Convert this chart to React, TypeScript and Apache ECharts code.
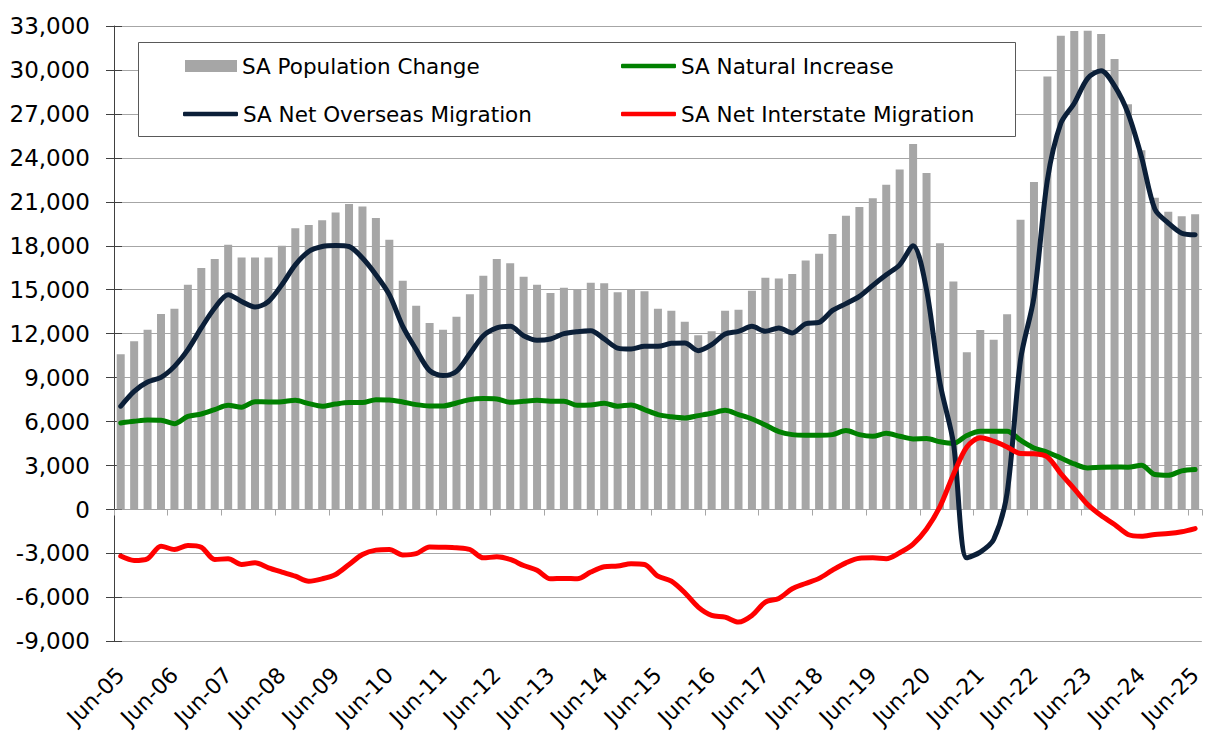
import React, { useEffect, useRef } from "react";
import * as echarts from "echarts";

const quarterNames = ["Jun", "Sep", "Dec", "Mar"];
const firstYear = 5;
const quarterCount = 81;

const categories: string[] = [];
for (let i = 0; i < quarterCount; i++) {
  const q = i % 4;
  const yr = firstYear + Math.floor(i / 4) + (q === 3 ? 1 : 0);
  categories.push(quarterNames[q] + "-" + String(yr).padStart(2, "0"));
}

const popChange = [
  10600, 11480, 12270, 13340, 13700, 15340, 16480, 17090, 18070, 17200,
  17200, 17200, 18000, 19200, 19410, 19750, 20270, 20860, 20680, 19890,
  18410, 15610, 13910, 12730, 12270, 13160, 14700, 15950, 17090, 16800,
  15890, 15340, 14770, 15140, 15000, 15480, 15450, 14820, 15050, 14890,
  13700, 13570, 12820, 11890, 12160, 13570, 13640, 14930, 15820, 15770,
  16070, 17000, 17450, 18800, 20050, 20640, 21250, 22160, 23210, 24950,
  22970, 18170, 15570, 10730, 12250, 11590, 13320, 19770, 22360, 29550,
  32340, 32660, 32680, 32450, 30750, 27660, 24520, 21270, 20320, 20020,
  20160,
];

const naturalIncrease = [
  5910, 6020, 6110, 6090, 5860, 6360, 6520, 6820, 7110, 6980,
  7360, 7340, 7360, 7450, 7230, 7050, 7200, 7300, 7300, 7500,
  7480, 7340, 7160, 7070, 7070, 7270, 7500, 7570, 7550, 7320,
  7390, 7450, 7390, 7390, 7110, 7140, 7250, 7050, 7140, 6820,
  6480, 6330, 6250, 6410, 6570, 6770, 6480, 6180, 5770, 5320,
  5110, 5070, 5070, 5110, 5390, 5110, 5000, 5200, 5000, 4820,
  4840, 4620, 4510, 5050, 5340, 5340, 5340, 4730, 4200, 3910,
  3520, 3110, 2840, 2890, 2910, 2890, 3020, 2390, 2340, 2640,
  2730,
];

const netOverseas = [
  7050, 8070, 8700, 9020, 9770, 10910, 12390, 13750, 14660, 14200,
  13820, 14200, 15340, 16700, 17610, 17950, 18020, 17950, 17160, 16020,
  14660, 12500, 10910, 9480, 9140, 9430, 10640, 11860, 12390, 12500,
  11860, 11550, 11640, 12000, 12140, 12200, 11640, 11020, 10950, 11140,
  11140, 11340, 11360, 10840, 11250, 11980, 12160, 12500, 12160, 12390,
  12050, 12680, 12770, 13590, 14050, 14550, 15300, 16020, 16700, 18000,
  15000, 8640, 4550, -3300, -2910, -2050, 1140, 10230, 14500, 22500,
  26360, 27730, 29430, 29950, 28910, 27050, 24090, 20500, 19550, 18860,
  18750,
];

const netInterstate = [
  -3180, -3480, -3360, -2500, -2730, -2450, -2570, -3410, -3360, -3750,
  -3640, -3980, -4270, -4550, -4890, -4730, -4430, -3750, -3070, -2770,
  -2730, -3100, -3010, -2550, -2570, -2610, -2730, -3300, -3230, -3410,
  -3820, -4140, -4730, -4700, -4730, -4270, -3910, -3860, -3700, -3750,
  -4550, -4890, -5680, -6660, -7230, -7340, -7680, -7230, -6320, -6070,
  -5410, -5050, -4700, -4140, -3640, -3320, -3300, -3360, -2950, -2360,
  -1330, 200, 2390, 4270, 4890, 4660, 4270, 3820, 3800, 3590,
  2450, 1410, 340, -410, -1020, -1700, -1820, -1700, -1640, -1520,
  -1300,
];

const seriesNames = [
  "SA Population Change",
  "SA Natural Increase",
  "SA Net Overseas Migration",
  "SA Net Interstate Migration",
];

const FONT = "DejaVu Sans";

export default function App() {
  const ref = useRef<HTMLDivElement>(null);

  useEffect(() => {
    if (!ref.current) return;
    const chart = echarts.init(ref.current, undefined, { renderer: "svg" });

    const legendText = {
      color: "#000",
      fontFamily: FONT,
      fontSize: 21.5,
      lineHeight: 24,
    };
    const legendBase = {
      orient: "horizontal",
      padding: 0,
      selectedMode: false,
      textStyle: legendText,
      z: 5,
    };
    const lineLegend = { ...legendBase, icon: "roundRect", itemWidth: 55, itemHeight: 4.5 };

    const lineSeries = (name: string, data: number[], color: string) => ({
      name,
      type: "line",
      data,
      symbol: "none",
      smooth: 0.3,
      xAxisIndex: 0,
      yAxisIndex: 0,
      itemStyle: { color },
      lineStyle: { color, width: 5, cap: "round", join: "round" },
      z: 3,
    });

    chart.setOption({
      animation: false,
      backgroundColor: "#ffffff",
      grid: { left: 114, top: 26, width: 1094, height: 616, containLabel: false },
      xAxis: [
        {
          type: "category",
          data: categories,
          position: "bottom",
          axisLine: { show: true, onZero: true, lineStyle: { color: "#a6a6a6", width: 1 } },
          axisTick: { show: true, interval: 3, length: 6, lineStyle: { color: "#a6a6a6", width: 1 } },
          axisLabel: { show: false },
          splitLine: { show: false },
        },
        {
          type: "category",
          data: categories,
          position: "bottom",
          axisLine: { show: false, onZero: false },
          axisTick: { show: false },
          axisLabel: {
            show: true,
            interval: 3,
            rotate: 45,
            margin: 30,
            color: "#000",
            fontFamily: FONT,
            fontSize: 22,
          },
          splitLine: { show: false },
        },
      ],
      yAxis: [
        {
          type: "value",
          min: -9000,
          max: 33000,
          interval: 3000,
          position: "left",
          axisLine: { show: true, lineStyle: { color: "#404040", width: 1 } },
          axisTick: { show: true, inside: false, length: 8, lineStyle: { color: "#404040", width: 1 } },
          axisLabel: {
            margin: 24,
            color: "#000",
            fontFamily: FONT,
            fontSize: 23,
            formatter: (v: number) => v.toLocaleString("en-US"),
          },
          splitLine: { show: true, lineStyle: { color: "#a6a6a6", width: 1 } },
        },
        {
          type: "value",
          min: -9000,
          max: 33000,
          interval: 3000,
          position: "left",
          axisLine: { show: false },
          axisTick: { show: true, inside: true, length: 8, lineStyle: { color: "#404040", width: 1 } },
          axisLabel: { show: false },
          splitLine: { show: false },
        },
      ],
      legend: [
        { ...legendBase, data: [seriesNames[0]], left: 185, top: 54, itemWidth: 52, itemHeight: 12, icon: "rect" },
        { ...lineLegend, data: [seriesNames[1]], left: 621, top: 54 },
        { ...lineLegend, data: [seriesNames[2]], left: 183, top: 102 },
        { ...lineLegend, data: [seriesNames[3]], left: 621, top: 102 },
      ],
      graphic: [
        {
          type: "rect",
          shape: { x: 138.5, y: 42.5, width: 877, height: 94 },
          style: { fill: "#ffffff", stroke: "#595959", lineWidth: 1 },
          z: 4,
          silent: true,
        },
      ],
      series: [
        {
          name: seriesNames[0],
          type: "bar",
          data: popChange,
          barWidth: 8,
          xAxisIndex: 0,
          yAxisIndex: 0,
          itemStyle: { color: "#a6a6a6" },
          z: 2,
        },
        lineSeries(seriesNames[1], naturalIncrease, "#008000"),
        lineSeries(seriesNames[2], netOverseas, "#0b1f38"),
        lineSeries(seriesNames[3], netInterstate, "#ff0000"),
      ],
    });

    return () => chart.dispose();
  }, []);

  return (
    <div
      ref={ref}
      style={{ position: "fixed", left: 0, top: 0, width: 1205, height: 731, background: "#fff" }}
    />
  );
}
